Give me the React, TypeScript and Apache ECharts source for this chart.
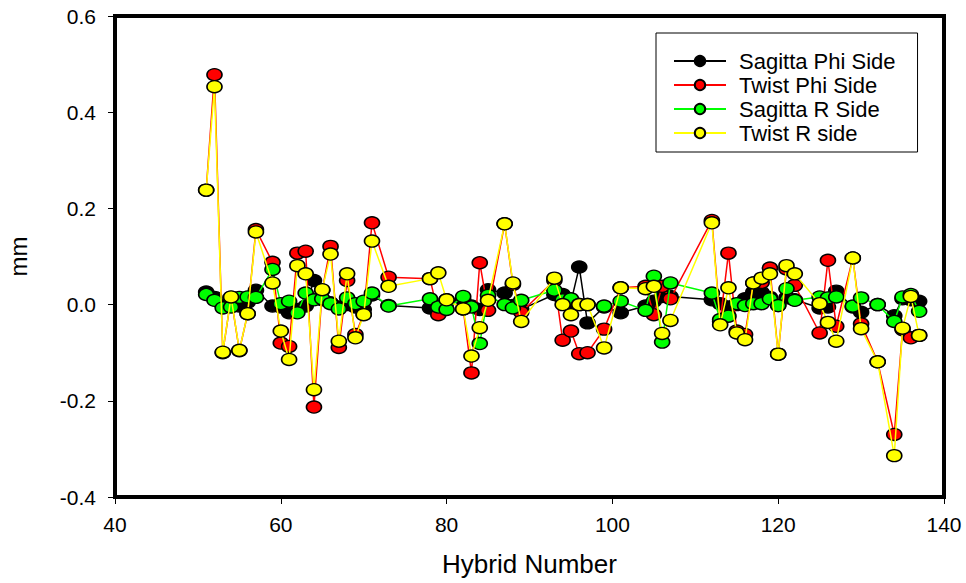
import React, { useEffect, useRef } from "react";
import * as echarts from "echarts";

const hybrids = [
  51, 52, 53, 54, 55, 56, 57,
  59, 60, 61, 62, 63, 64, 65, 66, 67, 68, 69, 70, 71,
  73,
  78, 79, 80,
  82, 83, 84, 85,
  87, 88, 89,
  93, 94, 95, 96, 97,
  99, 101,
  104, 105, 106, 107,
  112, 113, 114, 115, 116, 117, 118, 119, 120, 121, 122,
  125, 126, 127,
  129, 130, 132,
  134, 135, 136, 137,
];

const sagittaPhi = [
  0.026, 0.015, -0.003, 0.0, -0.003, 0.005, 0.03,
  -0.003, -0.005, -0.017, -0.01, -0.003, 0.05, 0.01, 0.004, -0.005, 0.0, -0.005, -0.01, 0.02,
  -0.002,
  -0.007, -0.01, 0.005,
  0.01, -0.003, -0.01, 0.031,
  0.024, -0.002, -0.01,
  0.021, 0.021, 0.005, 0.078, -0.038,
  -0.005, -0.017,
  -0.003, 0.007, 0.017, 0.017,
  0.01, 0.002, -0.005, 0.0, 0.012, 0.026, 0.025, 0.015, -0.002, 0.014, 0.01,
  -0.007, -0.005, 0.028,
  -0.005, -0.016, 0.0,
  -0.023, 0.012, 0.01, 0.007,
];

const twistPhi = [
  0.238, 0.478, -0.1, 0.015, -0.096, -0.019, 0.156,
  0.088, -0.08, -0.087, 0.107, 0.111, -0.213, 0.03, 0.121, -0.089, 0.05, -0.062, -0.02, 0.17,
  0.057,
  0.054, -0.021, 0.01,
  -0.009, -0.142, 0.087, -0.012,
  0.168, 0.042, -0.016,
  0.05, -0.074, -0.055, -0.102, -0.1,
  -0.051, 0.035,
  0.038, -0.021, 0.038, 0.012,
  0.175, -0.035, 0.107, -0.055, -0.062, 0.045, 0.046, 0.076, -0.103, 0.074, 0.04,
  -0.059, 0.092, -0.045,
  0.097, -0.04, -0.119,
  -0.27, -0.052, -0.069, -0.064,
];

const sagittaR = [
  0.021, 0.009, -0.007, -0.005, 0.015, 0.016, 0.015,
  0.073, 0.002, 0.007, -0.017, 0.024, 0.01, 0.012, 0.002, -0.009, 0.014, 0.002, 0.007, 0.024,
  -0.003,
  0.012, -0.005, -0.01,
  0.017, -0.005, -0.081, 0.019,
  0.0, -0.007, 0.009,
  0.03, 0.01, 0.012, 0.0, 0.0,
  -0.003, 0.007,
  -0.012, 0.059, -0.078, 0.045,
  0.024, -0.031, -0.024, 0.002, -0.002, 0.002, 0.002, 0.012, -0.002, 0.033, 0.009,
  0.016, 0.014, 0.016,
  -0.003, 0.014, 0.0,
  -0.035, 0.016, 0.021, -0.014,
];

const twistR = [
  0.238, 0.453, -0.099, 0.016, -0.095, -0.019, 0.151,
  0.045, -0.055, -0.114, 0.081, 0.064, -0.177, 0.031, 0.105, -0.076, 0.064, -0.069, -0.021, 0.132,
  0.038,
  0.054, 0.066, 0.01,
  -0.009, -0.107, -0.048, 0.009,
  0.168, 0.045, -0.035,
  0.055, 0.0, -0.021, 0.0, 0.0,
  -0.09, 0.035,
  0.033, 0.038, -0.06, -0.033,
  0.17, -0.042, 0.035, -0.059, -0.073, 0.045, 0.055, 0.064, -0.103, 0.081, 0.064,
  0.002, -0.037, -0.076,
  0.097, -0.05, -0.119,
  -0.314, -0.049, 0.017, -0.064,
];

const seriesNames = ["Sagitta Phi Side", "Twist Phi Side", "Sagitta R Side", "Twist R side"];
const seriesColors = ["#000000", "#ff0000", "#00ff00", "#ffff00"];
const seriesValues = [sagittaPhi, twistPhi, sagittaR, twistR];

const FONT = "'Liberation Sans', Arial, sans-serif";

export default function App() {
  const ref = useRef<HTMLDivElement>(null);
  useEffect(() => {
    if (!ref.current) return;
    const chart = echarts.init(ref.current, null, { renderer: "svg" });
    chart.setOption({
      animation: false,
      backgroundColor: "#ffffff",
      grid: {
        left: 115,
        right: 22,
        top: 16,
        bottom: 86,
        containLabel: false,
        outerBoundsMode: "none",
        show: true,
        borderColor: "#000",
        borderWidth: 4,
      },
      legend: {
        left: 656,
        top: 33,
        orient: "vertical",
        borderColor: "#000",
        borderWidth: 1,
        padding: [16, 22, 7, 17],
        itemWidth: 52,
        itemHeight: 13,
        itemGap: 0,
        textStyle: {
          fontFamily: FONT,
          fontSize: 22,
          lineHeight: 24,
          color: "#000",
          padding: [0, 0, 0, 8],
        },
        data: seriesNames,
      },
      xAxis: {
        type: "value",
        min: 40,
        max: 140,
        interval: 20,
        name: "Hybrid Number",
        nameLocation: "middle",
        nameGap: 54,
        nameTextStyle: { fontFamily: FONT, fontSize: 26, color: "#000" },
        axisLine: { show: true, onZero: false, lineStyle: { color: "#000", width: 4 } },
        axisTick: { show: true, inside: false, length: 7, lineStyle: { color: "#000", width: 1 } },
        axisLabel: { fontFamily: FONT, fontSize: 21, color: "#000", margin: 17 },
        splitLine: { show: false },
      },
      yAxis: {
        type: "value",
        min: -0.4,
        max: 0.6,
        interval: 0.2,
        name: "mm",
        nameLocation: "middle",
        nameGap: 85,
        nameRotate: 90,
        nameTextStyle: { fontFamily: FONT, fontSize: 24, color: "#000" },
        axisLine: { show: true, onZero: false, lineStyle: { color: "#000", width: 4 } },
        axisTick: { show: true, inside: false, length: 7, lineStyle: { color: "#000", width: 1 } },
        axisLabel: {
          fontFamily: FONT,
          fontSize: 21,
          color: "#000",
          margin: 19,
          formatter: (v: number) => v.toFixed(1),
        },
        splitLine: { show: false },
      },
      series: seriesNames.map((name, k) => ({
        name,
        type: "line",
        data: hybrids.map((x, i) => [x, seriesValues[k][i]]),
        symbol: "circle",
        symbolSize: [15, 12],
        lineStyle: { color: seriesColors[k], width: 1.5 },
        itemStyle: { color: seriesColors[k], borderColor: "#000", borderWidth: 1.5 },
        z: 2 + k,
      })),
    });
    return () => chart.dispose();
  }, []);
  return (
    <div
      ref={ref}
      style={{ position: "absolute", left: 0, top: 0, width: 966, height: 583 }}
    />
  );
}
